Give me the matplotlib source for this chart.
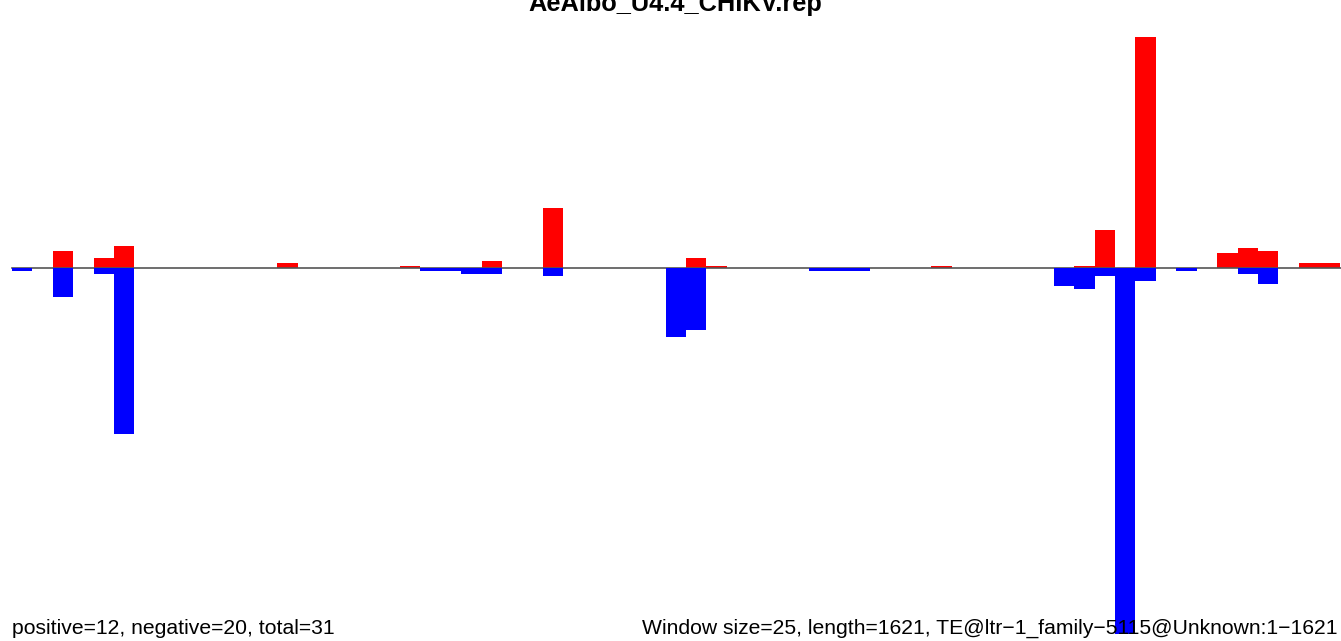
import matplotlib
matplotlib.use("Agg")
import matplotlib.pyplot as plt

title = "AeAlbo_U4.4_CHIKV.rep"
left_note = "positive=12, negative=20, total=31"
right_note = "Window size=25, length=1621, TE@ltr\u22121_family\u22125115@Unknown:1\u22121621"

window = 25
# signal per 25 bp window, 65 windows
positive = [0, 0, 17, 0, 10, 22, 0, 0, 0, 0,
            0, 0, 0, 5, 0, 0, 0, 0, 0, 2,
            0, 0, 0, 7, 0, 0, 60, 0, 0, 0,
            0, 0, 0, 10, 2, 0, 0, 0, 0, 0,
            0, 0, 0, 0, 0, 2, 0, 0, 0, 0,
            0, 0, 2, 38, 0, 231, 0, 0, 0, 15,
            20, 17, 0, 5, 5]
negative = [3, 0, 29, 0, 6, 166, 0, 0, 0, 0,
            0, 0, 0, 0, 0, 0, 0, 0, 0, 0,
            3, 3, 6, 6, 0, 0, 8, 0, 0, 0,
            0, 0, 69, 62, 0, 0, 0, 0, 0, 3,
            3, 3, 0, 0, 0, 0, 0, 0, 0, 0,
            0, 18, 21, 8, 366, 13, 0, 3, 0, 0,
            6, 16, 0, 0, 0]

starts = [i * window for i in range(len(positive))]

fig = plt.figure(figsize=(13.41, 6.41), dpi=100)
ax = fig.add_axes([0, 0, 1, 1])
ax.axis("off")

ax.bar(starts, positive, width=window, align="edge", color="#ff0000", linewidth=0, zorder=2)
ax.bar(starts, [-v for v in negative], width=window, align="edge", color="#0000ff", linewidth=0, zorder=4)
ax.plot([0, 1700], [0, 0], color="#555555", lw=1.2, zorder=3)

ax.set_xlim(-14.5, 1626.5)
ax.set_ylim(-373, 268)

fig.text(675 / 1341, 630 / 641, title, ha="center", va="baseline",
         fontsize=18.3, fontweight="bold", family="Liberation Sans")
fig.text(12 / 1341, 7.5 / 641, left_note, ha="left", va="baseline",
         fontsize=15.2, family="Liberation Sans", zorder=1)
fig.text(1337 / 1341, 7.5 / 641, right_note, ha="right", va="baseline",
         fontsize=15.2, family="Liberation Sans", zorder=1)

fig.savefig("out.png", dpi=100)
